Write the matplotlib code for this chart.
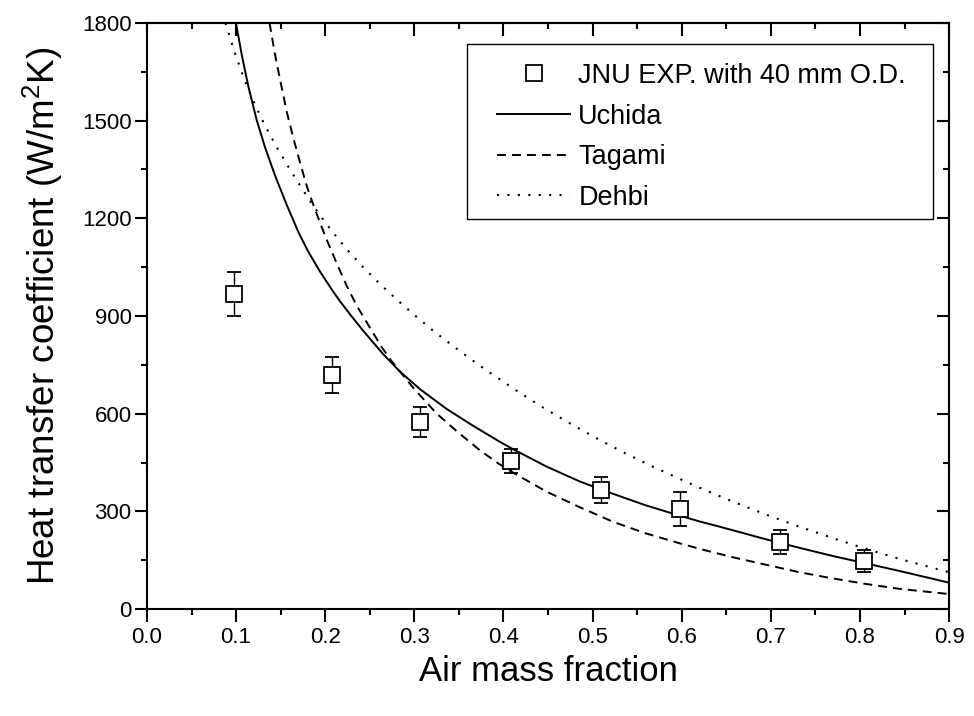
import matplotlib
matplotlib.use("Agg")
import matplotlib.pyplot as plt
from matplotlib.ticker import MultipleLocator, FormatStrFormatter
from matplotlib.lines import Line2D
from matplotlib.patches import Rectangle

plt.rcParams['font.family'] = ['Liberation Sans', 'DejaVu Sans']
plt.rcParams['mathtext.fontset'] = 'custom'
plt.rcParams['mathtext.rm'] = 'Liberation Sans'

# Experimental data
exp_x = [0.098, 0.208, 0.306, 0.408, 0.510, 0.598, 0.710, 0.805]
exp_y = [968, 719, 573, 455, 365, 307, 207, 148]
exp_err = [68, 54, 46, 38, 39, 52, 37, 33]

# Uchida correlation
uchida_x = [0.0998, 0.1065, 0.114, 0.1233, 0.1326, 0.1439, 0.157, 0.170, 0.1805,
            0.194, 0.2089, 0.2164, 0.2276, 0.2425, 0.265, 0.2836, 0.306, 0.336,
            0.3658, 0.3957, 0.4107, 0.448, 0.4854, 0.5228, 0.5602, 0.5975, 0.62,
            0.6424, 0.6573, 0.6947, 0.732, 0.7694, 0.8068, 0.8442, 0.9]
uchida_y = [1800, 1700, 1602, 1500, 1417, 1330, 1240, 1157, 1100,
            1037, 975, 946, 906, 855, 783, 730, 676, 615,
            563, 514, 491, 438, 392, 354, 318, 287, 269,
            253, 242, 214, 188, 163, 140, 117, 81]

# Tagami correlation
tagami_x = [0.1375, 0.1439, 0.1513, 0.157, 0.1644, 0.1719, 0.1794, 0.1887, 0.1999,
            0.2127, 0.2239, 0.2351, 0.25, 0.263, 0.2743, 0.2986, 0.3248, 0.3472,
            0.3733, 0.3938, 0.4107, 0.448, 0.4854, 0.5228, 0.5602, 0.5975, 0.6256,
            0.6573, 0.6947, 0.732, 0.7694, 0.8068, 0.8442, 0.9]
tagami_y = [1800, 1700, 1600, 1525, 1445, 1370, 1298, 1226, 1146,
            1063, 994, 933, 865, 806, 762, 680, 601, 547,
            488, 448, 419, 361, 313, 268, 232, 202, 181,
            159, 136, 113, 94, 77, 62, 46]

# Dehbi correlation
dehbi_x = [0.088, 0.099, 0.1102, 0.1214, 0.1326, 0.1457, 0.1589, 0.1719, 0.185,
           0.1999, 0.2089, 0.2239, 0.2425, 0.2612, 0.2817, 0.3023, 0.321, 0.3434,
           0.3621, 0.3826, 0.4145, 0.4443, 0.4742, 0.5041, 0.534, 0.5639, 0.5975,
           0.6256, 0.6573, 0.6947, 0.732, 0.7694, 0.8068, 0.8442, 0.9]
dehbi_y = [1800, 1705, 1620, 1548, 1484, 1418, 1357, 1300, 1245,
           1188, 1156, 1106, 1050, 999, 947, 898, 855, 808,
           770, 730, 671, 619, 571, 525, 482, 442, 400,
           366, 330, 290, 253, 218, 185, 154, 113]

fig = plt.figure(figsize=(9.74, 7.16), dpi=100)
ax = fig.add_axes([0.1509, 0.1494, 0.8235, 0.8185])

ax.errorbar(exp_x, exp_y, yerr=exp_err, fmt='s', mfc='white', mec='black', mew=1.3,
            ms=11.5, ecolor='black', elinewidth=1.0, capsize=5, capthick=1.0,
            zorder=3)
l_u, = ax.plot(uchida_x, uchida_y, '-', color='black', lw=1.4, label='Uchida')
l_t, = ax.plot(tagami_x, tagami_y, color='black', lw=1.4, dashes=(4.6, 3.1), label='Tagami')
l_d, = ax.plot(dehbi_x, dehbi_y, color='black', lw=1.5, dashes=(1, 4), label='Dehbi')
exp_handle = Line2D([], [], marker='s', ls='none', mfc='white', mec='black', mew=1.3, ms=11.5)

ax.set_xlim(0.0, 0.9)
ax.set_ylim(0, 1800)
ax.xaxis.set_major_locator(MultipleLocator(0.1))
ax.xaxis.set_minor_locator(MultipleLocator(0.05))
ax.yaxis.set_major_locator(MultipleLocator(300))
ax.yaxis.set_minor_locator(MultipleLocator(150))
ax.xaxis.set_major_formatter(FormatStrFormatter('%.1f'))

for s in ax.spines.values():
    s.set_linewidth(1.5)

ax.tick_params(axis='both', which='major', length=9, width=1.5, labelsize=16, direction='out')
ax.tick_params(axis='both', which='minor', length=4.5, width=1.5, direction='out')
ax.tick_params(axis='x', which='major', pad=4)
ax.tick_params(axis='y', which='major', pad=2)

axt = ax.secondary_xaxis('top')
axt.xaxis.set_major_locator(MultipleLocator(0.1))
axt.xaxis.set_minor_locator(MultipleLocator(0.05))
axt.tick_params(which='major', direction='in', length=9, width=1.5, labeltop=False)
axt.tick_params(which='minor', direction='in', length=4.5, width=1.5)
axt.spines['top'].set_linewidth(1.5)
axr = ax.secondary_yaxis('right')
axr.yaxis.set_major_locator(MultipleLocator(300))
axr.yaxis.set_minor_locator(MultipleLocator(150))
axr.tick_params(which='major', direction='in', length=9, width=1.5, labelright=False)
axr.tick_params(which='minor', direction='in', length=4.5, width=1.5)
axr.spines['right'].set_linewidth(1.5)

ax.set_xlabel('Air mass fraction', fontsize=25, labelpad=5)
ax.set_ylabel('Heat transfer coefficient (W/m$^2$K)', fontsize=26.5, labelpad=12)

# legend frame
ax.add_patch(Rectangle((0.399, 0.6655), 0.581, 0.2985, transform=ax.transAxes,
                       fill=True, facecolor='white', edgecolor='black', lw=1.0, zorder=4))
leg = ax.legend([exp_handle, l_u, l_t, l_d],
                ['JNU EXP. with 40 mm O.D.', 'Uchida', 'Tagami', 'Dehbi'],
                loc='upper left', bbox_to_anchor=(0.4364, 0.9318), fontsize=19.5,
                frameon=False, handlelength=2.7, handletextpad=0.3, labelspacing=0.54,
                borderpad=0.0, borderaxespad=0.0)
leg.set_zorder(5)

fig.savefig('out.png', dpi=100)
